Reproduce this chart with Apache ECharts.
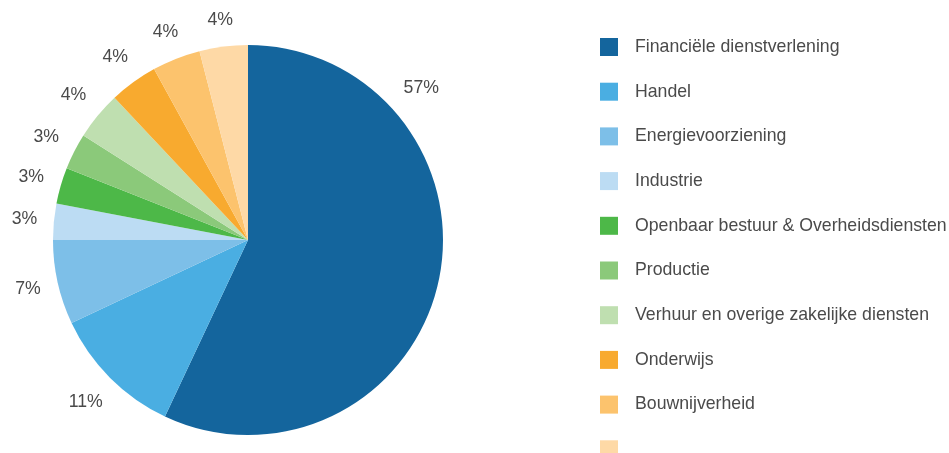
<!DOCTYPE html>
<html>
<head>
<meta charset="utf-8">
<script src="https://cdn.jsdelivr.net/npm/echarts@6/dist/echarts.min.js"></script>
<style>
  html, body { margin: 0; padding: 0; background: #fff; }
  #chart { width: 949px; height: 453px; }
</style>
</head>
<body>
<div id="chart"></div>
<script>
// Sector shares (percent), clockwise from 12 o'clock
const sectors = [
  'Financiële dienstverlening',
  'Handel',
  'Energievoorziening',
  'Industrie',
  'Openbaar bestuur & Overheidsdiensten',
  'Productie',
  'Verhuur en overige zakelijke diensten',
  'Onderwijs',
  'Bouwnijverheid',
  ' '
];
const shares = [57, 11, 7, 3, 3, 3, 4, 4, 4, 4];
const sectorColors = [
  '#14659d', '#4aaee2', '#7dbfe8', '#bcdcf3',
  '#4db848', '#8bc97a', '#bfdfb0',
  '#f8aa2f', '#fcc36d', '#fed9a6'
];

const center = [248, 240];
const radius = 195;
const labelGap = 16;

const total = shares.reduce((a, b) => a + b, 0);
const midShare = [];
shares.reduce((acc, v, i) => { midShare[i] = acc + v / 2; return acc + v; }, 0);

const chart = echarts.init(document.getElementById('chart'), null, { renderer: 'canvas' });

chart.setOption({
  animation: false,
  color: sectorColors,
  textStyle: { fontFamily: 'Liberation Sans, Arial, sans-serif' },
  legend: {
    orient: 'vertical',
    left: 595,
    top: 33,
    height: 480,
    itemWidth: 18,
    itemHeight: 18,
    itemGap: 26.7,
    icon: 'rect',
    textStyle: { fontSize: 17.7, color: '#4a4a4a', padding: [0, 0, 0, 12] },
    data: sectors
  },
  series: [{
    type: 'pie',
    center: center,
    radius: radius,
    startAngle: 90,
    clockwise: true,
    avoidLabelOverlap: false,
    label: {
      show: true,
      position: 'outside',
      formatter: '{c}%',
      fontSize: 17.7,
      color: '#4a4a4a'
    },
    labelLine: { show: false },
    labelLayout: function (p) {
      const i = p.dataIndex;
      // the dominant slice keeps its label in the upper right
      const frac = i === 0 ? 48.8 / 360 : midShare[i] / total;
      const a = frac * 2 * Math.PI;
      const s = Math.sin(a), c = Math.cos(a);
      const w = p.labelRect ? p.labelRect.width : 32;
      const h = p.labelRect ? p.labelRect.height : 16;
      const halfExtent = Math.abs(s) * w / 2 + Math.abs(c) * h / 2;
      const d = radius + labelGap + halfExtent;
      return {
        x: center[0] + d * s,
        y: center[1] - d * c,
        align: 'center',
        verticalAlign: 'middle'
      };
    },
    emphasis: { disabled: true },
    data: sectors.map((n, i) => ({ name: n, value: shares[i] }))
  }]
});
</script>
</body>
</html>
